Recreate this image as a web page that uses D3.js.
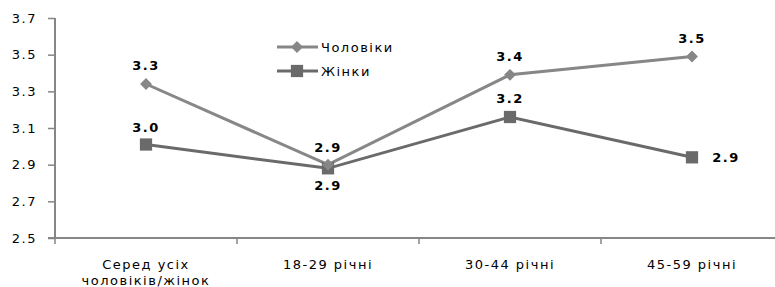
<!DOCTYPE html>
<html>
<head>
<meta charset="utf-8">
<script src="https://cdn.jsdelivr.net/npm/d3@7"></script>
<style>
  body { margin: 0; background: #fff; }
  svg text { font-family: "DejaVu Sans", Verdana, sans-serif; letter-spacing: 1.5px; }
</style>
</head>
<body>
<div id="container"></div>
<script>
const categories = [["Серед усіх", "чоловіків/жінок"], ["18-29 річні"], ["30-44 річні"], ["45-59 річні"]];
const men = [3.34, 2.9, 3.39, 3.49];
const women = [3.01, 2.88, 3.16, 2.94];
const menLabels = ["3.3", "2.9", "3.4", "3.5"];
const womenLabels = ["3.0", "2.9", "3.2", "2.9"];
const yTicks = [2.5, 2.7, 2.9, 3.1, 3.3, 3.5, 3.7];
const seriesNames = ["Чоловіки", "Жінки"];

const w = 775, h = 287;
const padLeft = 55, padTop = 18, axisY = 238;
const band = 182;

const svg = d3.select("#container").append("svg")
  .attr("width", w).attr("height", h);

const xScale = d3.scaleBand()
  .domain(d3.range(categories.length))
  .range([padLeft, padLeft + band * categories.length]);
const yScale = d3.scaleLinear().domain([2.5, 3.7]).range([axisY, padTop]);
const cx = i => xScale(i) + xScale.bandwidth() / 2;

// y axis
const yAxis = d3.axisLeft(yScale).tickValues(yTicks).tickFormat(d3.format(".1f")).tickSize(7).tickPadding(11);
const gy = svg.append("g").attr("transform", "translate(" + padLeft + ",0)").call(yAxis);
gy.select(".domain").attr("stroke", "#868686").attr("stroke-width", 2).attr("d", "M0," + padTop + "V" + axisY);
gy.selectAll(".tick line").attr("stroke", "#868686").attr("stroke-width", 1.5);
gy.selectAll("text").attr("font-size", 13).attr("fill", "#000");

// x axis
const gx = svg.append("g").attr("transform", "translate(0," + axisY + ")");
gx.append("line").attr("x1", padLeft - 7).attr("x2", w).attr("stroke", "#868686").attr("stroke-width", 2);
gx.selectAll(".xt").data(d3.range(categories.length + 1)).enter().append("line")
  .attr("x1", i => padLeft + band * i).attr("x2", i => padLeft + band * i)
  .attr("y1", 0).attr("y2", 6).attr("stroke", "#868686").attr("stroke-width", 1.5);
categories.forEach((lines, i) => {
  const t = gx.append("text").attr("text-anchor", "middle").attr("font-size", 13).attr("fill", "#000");
  lines.forEach((s, k) => {
    t.append("tspan").attr("x", cx(i)).attr("y", 31 + k * 16).text(s);
  });
});

const line = d3.line().x((d, i) => cx(i)).y(d => yScale(d));
const menColor = "#878787", womenColor = "#6a6a6a";

svg.append("path").datum(women).attr("d", line).attr("fill", "none")
  .attr("stroke", womenColor).attr("stroke-width", 3);
svg.append("path").datum(men).attr("d", line).attr("fill", "none")
  .attr("stroke", menColor).attr("stroke-width", 3);

const diamond = d3.symbol().type(d3.symbolDiamond2).size(90);
const square = d3.symbol().type(d3.symbolSquare).size(150);

svg.selectAll(".wm").data(women).enter().append("path")
  .attr("d", square).attr("fill", womenColor)
  .attr("transform", (d, i) => "translate(" + cx(i) + "," + yScale(d) + ")");
svg.selectAll(".mm").data(men).enter().append("path")
  .attr("d", diamond).attr("fill", menColor)
  .attr("transform", (d, i) => "translate(" + cx(i) + "," + yScale(d) + ")");

// data labels
const menOff = [[0, -14], [0, -13], [0, -14], [0, -14]];
const womenOff = [[0, -13], [0, 22], [0, -14], [34, 5]];
svg.selectAll(".ml").data(men).enter().append("text")
  .attr("x", (d, i) => cx(i) + menOff[i][0]).attr("y", (d, i) => yScale(d) + menOff[i][1])
  .attr("text-anchor", "middle").attr("font-size", 13).attr("font-weight", "bold")
  .text((d, i) => menLabels[i]);
svg.selectAll(".wl").data(women).enter().append("text")
  .attr("x", (d, i) => cx(i) + womenOff[i][0]).attr("y", (d, i) => yScale(d) + womenOff[i][1])
  .attr("text-anchor", "middle").attr("font-size", 13).attr("font-weight", "bold")
  .text((d, i) => womenLabels[i]);

// legend
const legend = svg.append("g");
seriesNames.forEach((name, k) => {
  const y = 47 + k * 24;
  const col = k === 0 ? menColor : womenColor;
  legend.append("line").attr("x1", 277).attr("x2", 318).attr("y1", y).attr("y2", y)
    .attr("stroke", col).attr("stroke-width", 3);
  legend.append("path").attr("d", k === 0 ? diamond : square).attr("fill", col)
    .attr("transform", "translate(297," + y + ")");
  legend.append("text").attr("x", 321).attr("y", y + 5).attr("font-size", 13).text(name);
});
</script>
</body>
</html>
